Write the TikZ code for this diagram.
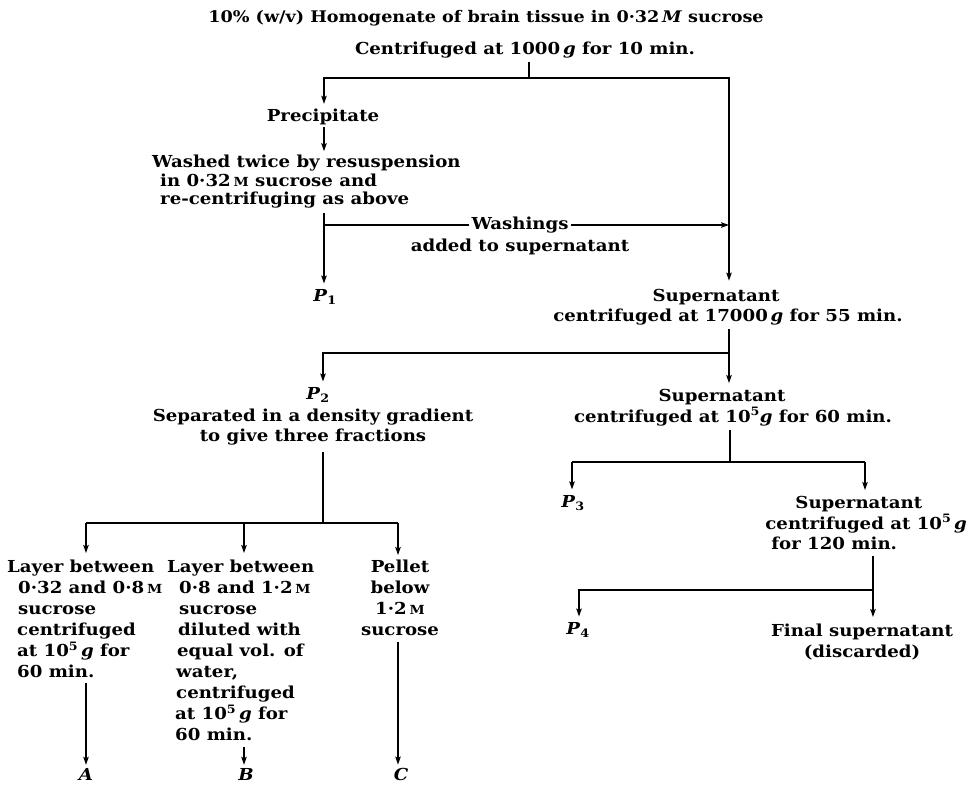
\documentclass[tikz,border=0pt]{standalone}
\usepackage{fontspec}
\setmainfont{DejaVu Serif}[FakeStretch=1.1]
\newcommand{\fsz}{16.5}
\newcommand{\tsz}{16}
\usetikzlibrary{arrows.meta}
\newcommand{\smM}{{\fontsize{12.5}{12.5}\selectfont M}}
\newcommand{\gi}{\textit{g}}
\newcommand{\cd}{\textperiodcentered}
\newcommand{\Pn}[1]{\textit{P}\textsubscript{#1}}
\tikzset{
  txt/.style={inner sep=0pt, font=\bfseries\fontsize{\fsz}{20.5}\selectfont, align=center},
  col/.style={inner sep=0pt, font=\bfseries\fontsize{\fsz}{21}\selectfont},
  ln/.style={line width=1.2pt},
  arr/.style={ln, -{Stealth[length=8pt,width=5.5pt,inset=1.5pt]}},
}
\begin{document}
\begin{tikzpicture}[x=1pt,y=-1pt]
\useasboundingbox (0,0) rectangle (971,784);
% ---------- text nodes
\node[txt, font=\bfseries\fontsize{\tsz}{20}\selectfont] (title) at (486,18) {10\% (w/v) Homogenate of brain tissue in 0\cd32\,\textit{M} sucrose};
\node[txt] (c1) at (525,50) {Centrifuged at 1000\,\gi{} for 10 min.};
\node[txt] (prec) at (323,117) {Precipitate};
\node[txt, align=left, anchor=west, font=\bfseries\fontsize{\fsz}{18.5}\selectfont] (wash) at (152,182)
  {Washed twice by resuspension\\\hspace*{8pt}in 0\cd32\,\smM{} sucrose and\\\hspace*{8pt}re-centrifuging as above};
\node[txt] (p1) at (325,297) {\Pn{1}};
\node[txt] (s1) at (728,307) {Supernatant\hspace*{24pt}\\centrifuged at 17000\,\gi{} for 55 min.};
\node[txt] (p2) at (318,395) {\Pn{2}};
\node[txt] (sep) at (313,427) {Separated in a density gradient\\to give three fractions};
\node[txt] (s2) at (733,407.5) {Supernatant\hspace*{22pt}\\centrifuged at 10\textsuperscript{5}\gi{} for 60 min.};
\node[txt] (p3) at (573,503) {\Pn{3}};
\node[txt, align=left, anchor=east] (s3) at (967,523)
  {\hspace*{30pt}Supernatant\\centrifuged at 10\textsuperscript{5}\,\gi\\\hspace*{6pt}for 120 min.};
\node[txt] (p4) at (578,630) {\Pn{4}};
\node[txt] (fin) at (862,642) {Final supernatant\\(discarded)};
\node[col, align=left, anchor=north west] (la) at (7,560)
  {Layer between\\\hspace*{11pt}0\cd32 and 0\cd8\,\smM\\\hspace*{11pt}sucrose\\\hspace*{10pt}centrifuged\\\hspace*{10pt}at 10\textsuperscript{5}\,\gi{} for\\\hspace*{10pt}60 min.};
\node[col, align=left, anchor=north west] (lb) at (167,560)
  {Layer between\\\hspace*{12pt}0\cd8 and 1\cd2\,\smM\\\hspace*{12pt}sucrose\\\hspace*{11pt}diluted with\\\hspace*{10pt}equal vol. of\\\hspace*{9pt}water,\\\hspace*{9pt}centrifuged\\\hspace*{8pt}at 10\textsuperscript{5}\,\gi{} for\\\hspace*{8pt}60 min.};
\node[col, align=center, anchor=north] (lc) at (400,560) {Pellet\\below\\1\cd2\,\smM\\sucrose};
\node[txt] (A) at (86,774) {\textit{A}};
\node[txt] (B) at (246,774) {\textit{B}};
\node[txt] (C) at (401,774) {\textit{C}};
% ---------- junction coordinates
\coordinate (j0) at (529,78);
\coordinate (L1) at (324,78);
\coordinate (R1) at (729,78);
\coordinate (wj) at (324,225);
\coordinate (wr) at (729,225);
\coordinate (j2) at (729,353);
\coordinate (L2) at (323,353);
\coordinate (j3) at (730,462);
\coordinate (P3c) at (572,462);
\coordinate (S3c) at (865,462);
\coordinate (j5) at (873,590);
\coordinate (P4c) at (579,590);
\coordinate (j4) at (323,523);
\coordinate (A1) at (86,523);
\coordinate (B1) at (244,523);
\coordinate (C1) at (398,523);
% ---------- connectors
\draw[ln, shorten <=4pt] (c1.south -| j0) -- (j0);
\draw[arr, shorten >=5pt] (j0) -- (L1) -- (L1 |- prec.north);
\draw[arr, shorten >=8pt] (j0) -- (R1) -- (R1 |- s1.north);
\draw[arr, shorten <=2pt, shorten >=4pt] (L1 |- prec.south) -- (L1 |- wash.north);
\draw[arr, shorten <=4pt, shorten >=6pt] (L1 |- wash.south) -- (L1 |- p1.north);
\draw[arr] (wj) -- (wr);
\draw[ln, shorten <=4pt] (R1 |- s1.south) -- (j2);
\draw[arr, shorten >=6pt] (j2) -- (j2 |- s2.north);
\draw[arr, shorten >=6pt] (j2) -- (L2) -- (L2 |- p2.north);
\draw[ln, shorten <=4pt] (j3 |- s2.south) -- (j3);
\draw[ln] (P3c) -- (S3c);
\draw[arr, shorten >=6pt] (P3c) -- (P3c |- p3.north);
\draw[arr, shorten >=6pt] (S3c) -- (S3c |- s3.north);
\draw[ln, shorten <=6pt] (j5 |- s3.south) -- (j5);
\draw[arr, shorten >=6pt] (j5) -- (P4c) -- (P4c |- p4.north);
\draw[arr, shorten >=7pt] (j5) -- (j5 |- fin.north);
\draw[ln, shorten <=6pt] (j4 |- sep.south) -- (j4);
\draw[ln] (A1) -- (C1);
\draw[arr, shorten >=7pt] (A1) -- (A1 |- la.north);
\draw[arr, shorten >=7pt] (B1) -- (B1 |- lb.north);
\draw[arr, shorten >=5pt] (C1) -- (C1 |- lc.north);
\draw[arr, shorten <=5pt, shorten >=3pt] (A1 |- la.south) -- (A1 |- A.north);
\draw[arr, shorten <=6pt, shorten >=3pt] (B1 |- lb.south) -- (B1 |- B.north);
\draw[arr, shorten <=6pt, shorten >=3pt] (C1 |- lc.south) -- (C1 |- C.north);
% ---------- label on the washings line
\node[txt, fill=white, inner xsep=3pt, inner ysep=1pt] (wl) at (520,225) {Washings};
\node[txt] (wl2) at (520,247) {added to supernatant};
\end{tikzpicture}
\end{document}
